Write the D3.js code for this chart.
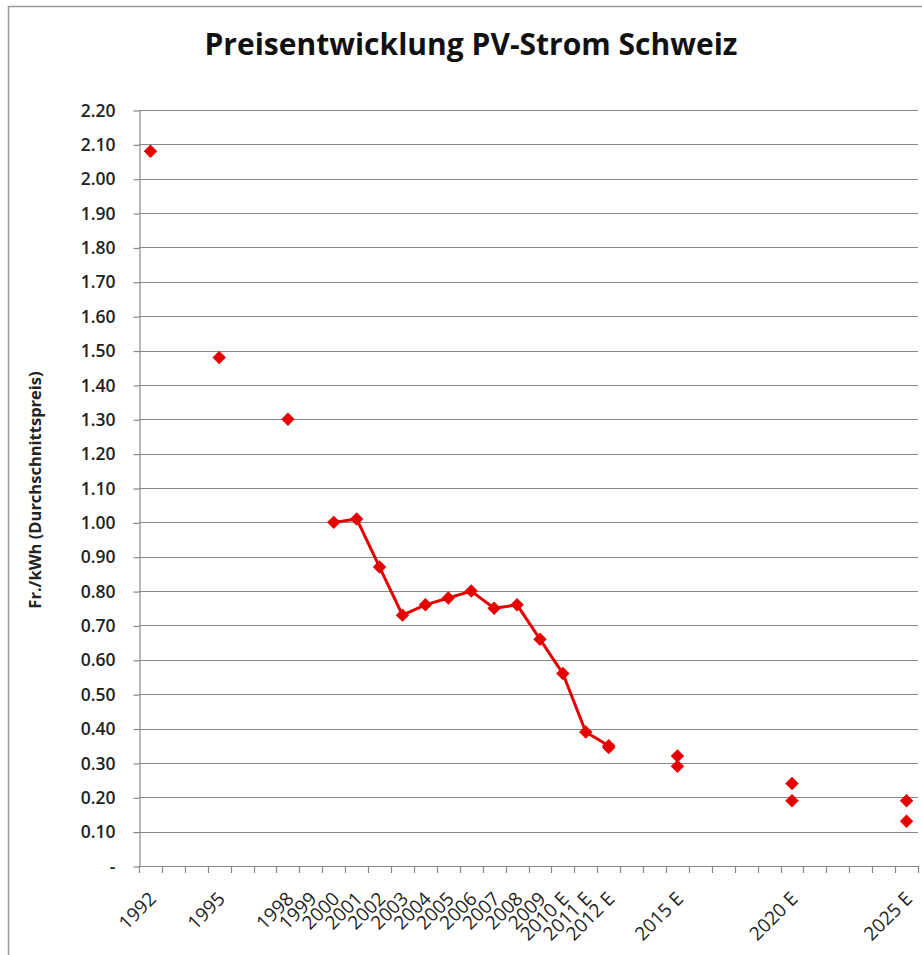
<!DOCTYPE html>
<html>
<head>
<meta charset="utf-8">
<script src="https://cdn.jsdelivr.net/npm/d3@7"></script>
<style>
  body { margin: 0; background: #fff; }
  svg { display: block; font-family: 'Open Sans', sans-serif; }
</style>
</head>
<body>
<svg id="chart" width="922" height="955"></svg>
<script>
// one category per year, only some are labelled
const years = ['1992', '1993', '1994', '1995', '1996', '1997', '1998', '1999', '2000', '2001',
  '2002', '2003', '2004', '2005', '2006', '2007', '2008', '2009', '2010', '2011', '2012',
  '2013', '2014', '2015', '2016', '2017', '2018', '2019', '2020', '2021', '2022', '2023',
  '2024', '2025']
const yearLabels = ['1992', '', '', '1995', '', '', '1998', '1999', '2000', '2001',
  '2002', '2003', '2004', '2005', '2006', '2007', '2008', '2009', '2010 E', '2011 E', '2012 E',
  '', '', '2015 E', '', '', '', '', '2020 E', '', '', '', '', '2025 E']
// Fr./kWh, null = no value
const priceMain = [2.08, null, null, 1.48, null, null, 1.30, null, 1.00, 1.01,
  0.87, 0.73, 0.76, 0.78, 0.80, 0.75, 0.76, 0.66, 0.56, 0.39, 0.35,
  null, null, 0.32, null, null, null, null, 0.24, null, null, null, null, 0.19]
const priceLow = [null, null, null, null, null, null, null, null, null, null,
  null, null, null, null, null, null, null, null, null, null, 0.345,
  null, null, 0.29, null, null, null, null, 0.19, null, null, null, null, 0.13]
const yTicks = [0, 0.1, 0.2, 0.3, 0.4, 0.5, 0.6, 0.7, 0.8, 0.9, 1.0, 1.1,
  1.2, 1.3, 1.4, 1.5, 1.6, 1.7, 1.8, 1.9, 2.0, 2.1, 2.2]

const margin = { top: 110, right: 4, bottom: 89, left: 139 }
const width = 922
const height = 955
const red = '#e60000'
const grid = '#888888'

const svg = d3.select('#chart')

// outer frame of the chart area
svg.append('rect')
  .attr('x', 8.5).attr('y', 6.5)
  .attr('width', 930).attr('height', 960)
  .attr('fill', 'none')
  .attr('stroke', '#9a9a9a')
  .attr('stroke-width', 1.5)

svg.append('text')
  .attr('x', 471).attr('y', 55)
  .attr('text-anchor', 'middle')
  .attr('font-size', 31)
  .attr('font-weight', 700)
  .attr('textLength', 533)
  .attr('lengthAdjust', 'spacingAndGlyphs')
  .attr('fill', '#111')
  .text('Preisentwicklung PV-Strom Schweiz')

const x = d3.scaleBand()
  .domain(years)
  .range([margin.left, width - margin.right])
const y = d3.scaleLinear()
  .domain([0, 2.2])
  .range([height - margin.bottom, margin.top])

// horizontal gridlines
svg.append('g')
  .selectAll('line')
  .data(yTicks.filter(d => d > 0))
  .join('line')
  .attr('x1', margin.left).attr('x2', width - margin.right)
  .attr('y1', d => Math.round(y(d)) + 0.5).attr('y2', d => Math.round(y(d)) + 0.5)
  .attr('stroke', grid)
  .attr('stroke-width', 1.2)

const axisY = d3.axisLeft(y)
  .tickValues(yTicks)
  .tickSize(6)
  .tickSizeOuter(0)
  .tickFormat(d => d === 0 ? '-' : d3.format('.2f')(d))
const gy = svg.append('g')
  .attr('transform', 'translate(' + (margin.left + 0.5) + ',0.5)')
  .call(axisY)
gy.selectAll('path, line').attr('stroke', grid).attr('stroke-width', 1.2)
gy.selectAll('text')
  .attr('x', -24)
  .attr('font-size', 17.5)
  .attr('font-weight', 600)
  .attr('fill', '#222')
  .attr('font-family', "'Open Sans', sans-serif")

// x axis: ticks at the band boundaries, labels at band centres
const base = height - margin.bottom
const gx = svg.append('g')
gx.append('line')
  .attr('x1', margin.left).attr('x2', width - margin.right)
  .attr('y1', base + 0.5).attr('y2', base + 0.5)
  .attr('stroke', grid).attr('stroke-width', 1.2)
gx.selectAll('line.tick')
  .data(years.map(d => x(d)).concat([x.range()[1]]))
  .join('line')
  .attr('class', 'tick')
  .attr('x1', d => Math.round(d) + 0.5).attr('x2', d => Math.round(d) + 0.5)
  .attr('y1', base).attr('y2', base + 7)
  .attr('stroke', grid).attr('stroke-width', 1.2)
gx.selectAll('text')
  .data(years)
  .join('text')
  .attr('text-anchor', 'end')
  .attr('font-size', 19)
  .attr('fill', '#222')
  .attr('transform', (d) => 'translate(' + (x(d) + x.bandwidth() / 2 + 7) + ',' + (base + 34) + ') rotate(-45)')
  .text((d, i) => yearLabels[i])

svg.append('text')
  .attr('transform', 'translate(41,490) rotate(-90)')
  .attr('text-anchor', 'middle')
  .attr('font-size', 16.5)
  .attr('font-weight', 700)
  .attr('fill', '#222')
  .text('Fr./kWh (Durchschnittspreis)')

const cx = (d, i) => x(years[i]) + x.bandwidth() / 2
const line = d3.line()
  .defined(d => d !== null)
  .x(cx)
  .y(d => y(d))

function drawSeries (values) {
  svg.append('path')
    .attr('d', line(values))
    .attr('fill', 'none')
    .attr('stroke', red)
    .attr('stroke-width', 3)
    .attr('stroke-linejoin', 'round')
  svg.append('g')
    .selectAll('path')
    .data(values.map((v, i) => [v, i]).filter(d => d[0] !== null))
    .join('path')
    .attr('d', d3.symbol(d3.symbolDiamond2, 115))
    .attr('transform', d => 'translate(' + cx(d[0], d[1]) + ',' + y(d[0]) + ')')
    .attr('fill', red)
}
drawSeries(priceMain)
drawSeries(priceLow)
</script>
</body>
</html>
